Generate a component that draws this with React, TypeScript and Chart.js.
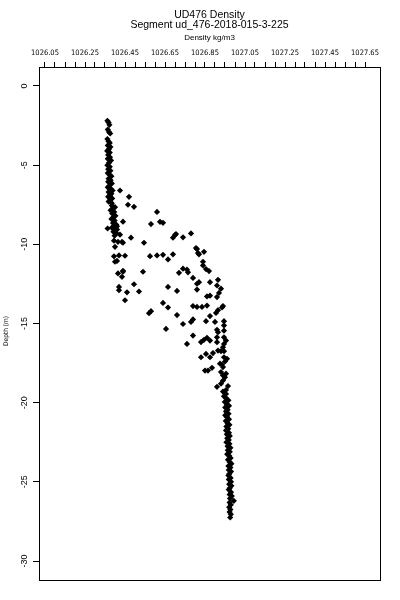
import React, { useEffect, useRef } from 'react';
import { Chart, registerables } from 'chart.js';

Chart.register(...registerables);

const titleLines = ['UD476 Density', 'Segment ud_476-2018-015-3-225'];
const xAxisTitle = 'Density kg/m3';
const yAxisTitle = 'Depth (m)';

const xTickLabels = ['1026.05', '1026.25', '1026.45', '1026.65', '1026.85', '1027.05', '1027.25', '1027.45', '1027.65'];
const xMinorPerMajor = 4;
const yTickValues = [0, -5, -10, -15, -20, -25, -30];

const xMin = 1026.02;
const xMax = 1027.725;
const yMin = -31.2;
const yMax = 1.2;

// [depth (m), density (kg/m3)]
const upperColumn: [number, number][] = [
  [-2.2, 1026.362], [-2.3, 1026.368], [-2.45, 1026.372], [-2.75, 1026.364], [-2.9, 1026.37],
  [-3.0, 1026.376], [-3.35, 1026.362], [-3.5, 1026.368], [-3.6, 1026.374], [-3.75, 1026.364],
  [-3.85, 1026.377], [-4.0, 1026.369], [-4.1, 1026.361], [-4.2, 1026.374], [-4.35, 1026.366],
  [-4.5, 1026.375], [-4.6, 1026.364], [-4.7, 1026.38], [-4.85, 1026.37], [-5.0, 1026.362],
  [-5.1, 1026.374], [-5.25, 1026.366], [-5.35, 1026.377], [-5.5, 1026.364], [-5.6, 1026.373],
  [-5.7, 1026.382], [-5.85, 1026.368], [-5.95, 1026.378], [-6.05, 1026.366], [-6.15, 1026.384],
  [-6.3, 1026.372], [-6.4, 1026.364], [-6.5, 1026.38], [-6.6, 1026.388], [-6.7, 1026.368],
  [-6.8, 1026.382], [-6.9, 1026.374], [-7.0, 1026.366], [-7.1, 1026.386], [-7.2, 1026.376],
  [-7.3, 1026.368], [-7.4, 1026.384], [-7.55, 1026.384], [-7.65, 1026.4], [-7.75, 1026.388],
  [-7.85, 1026.378], [-7.95, 1026.396], [-8.05, 1026.386], [-8.2, 1026.402], [-8.3, 1026.39],
  [-8.4, 1026.382], [-8.5, 1026.398], [-8.65, 1026.39], [-8.75, 1026.406], [-8.85, 1026.394],
  [-8.95, 1026.384], [-9.1, 1026.402], [-9.2, 1026.392], [-9.3, 1026.408], [-9.45, 1026.398],
];

const transitionScatter: [number, number][] = [
  [-6.6, 1026.425], [-7.0, 1026.47], [-7.5, 1026.465], [-7.63, 1026.495], [-7.95, 1026.61],
  [-8.57, 1026.44], [-8.58, 1026.625], [-8.64, 1026.64], [-8.72, 1026.58], [-8.86, 1026.41],
  [-9.0, 1026.363], [-9.07, 1026.41], [-9.39, 1026.425], [-9.41, 1026.7], [-9.58, 1026.69],
  [-9.56, 1026.74], [-9.31, 1026.78], [-10.23, 1026.805], [-9.58, 1026.48], [-9.9, 1026.545],
  [-10.16, 1026.4], [-9.85, 1026.435], [-9.77, 1026.395], [-9.84, 1026.415], [-9.9, 1026.44],
  [-9.35, 1026.705], [-10.3, 1026.81], [-10.63, 1026.82], [-10.55, 1026.815], [-10.47, 1026.845],
  [-10.76, 1026.395], [-10.7, 1026.42], [-10.72, 1026.45], [-11.1, 1026.4], [-11.05, 1026.41],
  [-10.75, 1026.575], [-10.7, 1026.61], [-10.66, 1026.64], [-10.95, 1026.665], [-10.63, 1026.69],
  [-11.1, 1026.84], [-11.33, 1026.84], [-11.56, 1026.855], [-11.69, 1026.87], [-11.8, 1026.72],
  [-11.54, 1026.74], [-11.6, 1026.76], [-11.77, 1026.765], [-11.73, 1026.54], [-11.84, 1026.415],
  [-11.73, 1026.44], [-12.05, 1026.435], [-11.67, 1026.44], [-12.52, 1026.495], [-12.69, 1026.42],
  [-12.9, 1026.42], [-13.03, 1026.46], [-12.98, 1026.52], [-13.53, 1026.45], [-12.69, 1026.665],
  [-12.94, 1026.71], [-12.12, 1026.79], [-12.49, 1026.81], [-12.39, 1026.82], [-12.86, 1026.81],
  [-12.39, 1026.875], [-12.24, 1026.915], [-12.6, 1026.91], [-12.8, 1026.93], [-13.07, 1026.92],
  [-13.33, 1026.91], [-13.29, 1026.86], [-13.24, 1026.875], [-13.7, 1026.64], [-13.99, 1026.665],
  [-14.35, 1026.57], [-14.22, 1026.58], [-13.9, 1026.79], [-13.95, 1026.81], [-13.95, 1026.835],
  [-13.87, 1026.86], [-14.33, 1026.905], [-14.16, 1026.915], [-13.99, 1026.935], [-13.9, 1026.94],
  [-14.53, 1026.875], [-14.47, 1026.71], [-15.03, 1026.74], [-14.9, 1026.78], [-14.74, 1026.79],
  [-15.34, 1026.655], [-14.85, 1026.855], [-14.9, 1026.9], [-14.85, 1026.945], [-15.12, 1026.945],
  [-15.45, 1026.945], [-15.4, 1026.91], [-15.55, 1026.915], [-15.76, 1026.79], [-16.29, 1026.76],
  [-16.17, 1026.83], [-16.03, 1026.845], [-15.9, 1026.86], [-16.08, 1026.875], [-15.87, 1026.91],
  [-16.18, 1026.91], [-15.87, 1026.945], [-16.08, 1026.955], [-16.29, 1026.945], [-16.5, 1026.94],
  [-17.13, 1026.83], [-16.92, 1026.855], [-17.13, 1026.875], [-16.87, 1026.89], [-16.71, 1026.915],
  [-16.75, 1026.93], [-16.75, 1026.945], [-17.13, 1026.945], [-17.23, 1026.96], [-17.4, 1026.95],
  [-17.6, 1026.935], [-17.97, 1026.85], [-17.97, 1026.865], [-17.8, 1026.885], [-17.54, 1026.925],
  [-17.75, 1026.94], [-18.07, 1026.93], [-18.28, 1026.94], [-18.17, 1026.955], [-18.4, 1026.95],
  [-18.6, 1026.94], [-18.8, 1026.93], [-19.0, 1026.91], [-19.2, 1026.955], [-18.95, 1026.965],
  [-19.3, 1026.94], [-19.45, 1026.955], [-19.6, 1026.945],
];

const lowerColumn: [number, number][] = [
  [-19.7, 1026.955], [-19.85, 1026.967], [-19.95, 1026.949], [-20.1, 1026.96], [-20.2, 1026.97],
  [-20.3, 1026.951], [-20.45, 1026.963], [-20.55, 1026.955], [-20.7, 1026.968], [-20.8, 1026.951],
  [-20.9, 1026.96], [-21.05, 1026.97], [-21.15, 1026.954], [-21.3, 1026.963], [-21.4, 1026.972],
  [-21.5, 1026.957], [-21.65, 1026.966], [-21.75, 1026.955], [-21.9, 1026.97], [-22.0, 1026.959],
  [-22.1, 1026.974], [-22.25, 1026.961], [-22.35, 1026.969], [-22.5, 1026.957], [-22.6, 1026.972],
  [-22.75, 1026.963], [-22.85, 1026.977], [-23.0, 1026.964], [-23.1, 1026.974], [-23.25, 1026.961],
  [-23.35, 1026.971], [-23.5, 1026.978], [-23.6, 1026.965], [-23.75, 1026.973], [-23.85, 1026.982],
  [-24.0, 1026.967], [-24.1, 1026.977], [-24.25, 1026.969], [-24.35, 1026.98], [-24.5, 1026.971],
  [-24.6, 1026.967], [-24.75, 1026.978], [-24.85, 1026.969], [-25.0, 1026.98], [-25.15, 1026.971],
  [-25.25, 1026.982], [-25.4, 1026.973], [-25.5, 1026.969], [-25.65, 1026.98], [-25.8, 1026.973],
  [-25.9, 1026.984], [-26.05, 1026.975], [-26.2, 1026.994], [-26.3, 1026.973], [-26.45, 1026.979],
  [-26.6, 1026.971], [-26.75, 1026.977], [-26.9, 1026.973], [-27.05, 1026.979], [-27.25, 1026.976],
];

const allProfiles = [upperColumn, transitionScatter, lowerColumn];

const FONT_SANS = '"Liberation Sans", Arial, Helvetica, sans-serif';
const FONT_NARROW = '"Liberation Sans Narrow", "DejaVu Sans Condensed", "Liberation Sans", sans-serif';

const framePlugin = {
  id: 'rFrame',
  afterDraw(chart: any) {
    const { ctx, chartArea: a, scales } = chart;
    ctx.save();
    ctx.strokeStyle = '#000';
    ctx.lineWidth = 1;
    ctx.strokeRect(Math.round(a.left) + 0.5, Math.round(a.top) + 0.5, Math.round(a.right - a.left), Math.round(a.bottom - a.top));

    const cx = (a.left + a.right) / 2;
    ctx.fillStyle = '#000';
    ctx.textAlign = 'center';
    ctx.textBaseline = 'middle';
    ctx.font = `10.5px ${FONT_SANS}`;
    ctx.fillText(titleLines[0], cx, 15);
    ctx.fillText(titleLines[1], cx, 25.5);
    ctx.font = `8px ${FONT_SANS}`;
    ctx.fillText(xAxisTitle, cx, 38);

    ctx.font = `9px ${FONT_SANS}`;
    for (const v of yTickValues) {
      const y = scales.y.getPixelForValue(v);
      ctx.save();
      ctx.translate(24.5, y);
      ctx.rotate(-Math.PI / 2);
      ctx.fillText(String(v), 0, 0);
      ctx.restore();
    }

    ctx.font = `6.5px ${FONT_NARROW}`;
    ctx.save();
    ctx.translate(6, 331);
    ctx.rotate(-Math.PI / 2);
    ctx.fillText(yAxisTitle, 0, 0);
    ctx.restore();
    ctx.restore();
  },
};

export default function App() {
  const canvasRef = useRef<HTMLCanvasElement | null>(null);

  useEffect(() => {
    document.body.style.margin = '0';
    const canvas = canvasRef.current;
    if (!canvas) return;

    const points: { x: number; y: number }[] = [];
    for (const profile of allProfiles) {
      for (const [depth, density] of profile) points.push({ x: density, y: depth });
    }

    const chart = new Chart(canvas, {
      type: 'scatter',
      data: {
        datasets: [
          {
            data: points,
            pointStyle: 'rectRot',
            pointRadius: 3.1,
            pointBackgroundColor: '#000',
            pointBorderColor: '#000',
            pointBorderWidth: 0,
          },
        ],
      },
      options: {
        responsive: false,
        animation: false,
        devicePixelRatio: 1,
        layout: { padding: { top: 0, left: 0, right: 20, bottom: 20 } },
        plugins: {
          legend: { display: false },
          tooltip: { enabled: false },
          title: { display: false },
        },
        scales: {
          x: {
            type: 'linear',
            position: 'top',
            min: xMin,
            max: xMax,
            border: { display: false },
            grid: { drawOnChartArea: false, drawTicks: true, tickLength: 5, color: '#000', lineWidth: 1 },
            afterBuildTicks: (scale: any) => {
              const ticks: { value: number }[] = [];
              const majors = xTickLabels.map((l) => parseFloat(l));
              majors.forEach((m, i) => {
                ticks.push({ value: m });
                if (i < majors.length - 1) {
                  const step = (majors[i + 1] - m) / xMinorPerMajor;
                  for (let k = 1; k < xMinorPerMajor; k++) ticks.push({ value: m + k * step });
                }
              });
              scale.ticks = ticks;
            },
            afterFit: (scale: any) => {
              scale.height = 67;
            },
            ticks: {
              autoSkip: false,
              maxRotation: 0,
              minRotation: 0,
              padding: 4,
              color: '#000',
              font: { family: FONT_NARROW, size: 7.5 },
              callback: (_v: any, index: number) => (index % xMinorPerMajor === 0 ? xTickLabels[index / xMinorPerMajor] : ''),
            },
          },
          y: {
            type: 'linear',
            position: 'left',
            min: yMin,
            max: yMax,
            border: { display: false },
            grid: { drawOnChartArea: false, drawTicks: true, tickLength: 6, color: '#000', lineWidth: 1 },
            afterBuildTicks: (scale: any) => {
              scale.ticks = yTickValues.map((v) => ({ value: v }));
            },
            afterFit: (scale: any) => {
              scale.width = 39;
            },
            ticks: {
              autoSkip: false,
              color: 'rgba(0,0,0,0)',
              font: { size: 1 },
              padding: 0,
              callback: () => '',
            },
          },
        },
      },
      plugins: [framePlugin],
    });

    return () => chart.destroy();
  }, []);

  return (
    <div style={{ width: 400, height: 600 }}>
      <canvas ref={canvasRef} width={400} height={600} style={{ display: 'block' }} />
    </div>
  );
}
